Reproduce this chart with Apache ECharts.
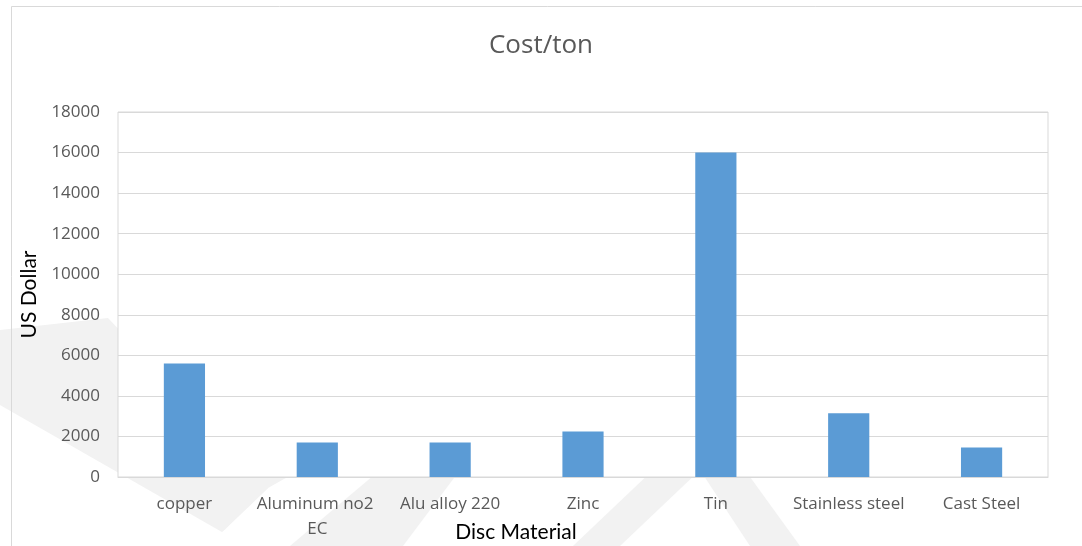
<!DOCTYPE html>
<html>
<head>
<meta charset="utf-8">
<title>Cost/ton</title>
<script src="https://cdn.jsdelivr.net/npm/echarts@6/dist/echarts.min.js"></script>
<style>
  html, body { margin: 0; padding: 0; background: #ffffff; }
  #chart { width: 1082px; height: 546px; }
</style>
</head>
<body>
<div id="chart"></div>
<script>
// Disc material cost per ton (US Dollar)
const materials = ['copper', 'Aluminum no2 EC', 'Alu alloy 220', 'Zinc', 'Tin', 'Stainless steel', 'Cast Steel'];
const costPerTon = [5600, 1700, 1700, 2250, 16000, 3150, 1450];
const yTicks = { min: 0, max: 18000, step: 2000 };

const titleText = 'Cost/ton';
const xName = 'Disc Material';
const yName = 'US Dollar';

const labelGrey = '#595959';
const lineGrey = '#d9d9d9';
const barBlue = '#5b9bd5';
const markGrey = '#f2f2f2';

// faint background mark shapes around the plot frame
const backdrop = [
  [[0, 330], [108, 318], [268, 488], [222, 532], [0, 405]],
  [[222, 532], [268, 488], [300, 470], [250, 470]],
  [[290, 546], [403, 546], [460, 470], [380, 470]],
  [[573, 546], [620, 546], [700, 470], [653, 470]],
  [[700, 470], [745, 470], [800, 546], [750, 546]]
];

const chart = echarts.init(document.getElementById('chart'), null, { renderer: 'canvas' });

chart.setOption({
  animation: false,
  backgroundColor: '#ffffff',
  title: {
    text: titleText,
    left: 'center',
    top: 27,
    textStyle: {
      fontFamily: 'Open Sans',
      fontSize: 26,
      fontWeight: 'normal',
      color: labelGrey,
      lineHeight: 28
    }
  },
  graphic: [
    ...backdrop.map(points => ({
      type: 'polygon',
      z: -10,
      silent: true,
      shape: { points },
      style: { fill: markGrey }
    })),
    {
      type: 'rect',
      z: -5,
      silent: true,
      shape: { x: 11.5, y: 6.5, width: 1200, height: 700 },
      style: { fill: 'none', stroke: lineGrey, lineWidth: 1 }
    }
  ],
  grid: {
    left: 118,
    right: 34,
    top: 112,
    bottom: 69,
    show: true,
    backgroundColor: '#ffffff',
    borderColor: lineGrey,
    borderWidth: 1,
    containLabel: false,
    outerBoundsMode: 'none'
  },
  xAxis: {
    type: 'category',
    data: materials,
    name: xName,
    nameLocation: 'middle',
    nameGap: 45,
    nameMoveOverlap: false,
    nameTextStyle: {
      fontFamily: 'Lato',
      fontSize: 21,
      color: '#000000',
      padding: [0, 134, 0, 0]
    },
    axisTick: { show: false },
    axisLine: { show: true, lineStyle: { color: lineGrey, width: 1 } },
    axisLabel: {
      interval: 0,
      margin: 15,
      fontFamily: 'Open Sans',
      fontSize: 17,
      lineHeight: 25,
      color: labelGrey,
      width: 130,
      overflow: 'break'
    }
  },
  yAxis: {
    type: 'value',
    min: yTicks.min,
    max: yTicks.max,
    interval: yTicks.step,
    name: yName,
    nameLocation: 'middle',
    nameRotate: 90,
    nameGap: 78,
    nameMoveOverlap: false,
    nameTextStyle: {
      fontFamily: 'Lato',
      fontSize: 21,
      color: '#000000'
    },
    axisLine: { show: false },
    axisTick: { show: false },
    splitLine: { show: true, lineStyle: { color: lineGrey, width: 1 } },
    axisLabel: {
      margin: 18,
      fontFamily: 'Open Sans',
      fontSize: 17,
      color: labelGrey,
      formatter: value => String(value)
    }
  },
  series: [{
    type: 'bar',
    data: costPerTon,
    barWidth: '31%',
    itemStyle: { color: barBlue }
  }]
});
</script>
</body>
</html>
